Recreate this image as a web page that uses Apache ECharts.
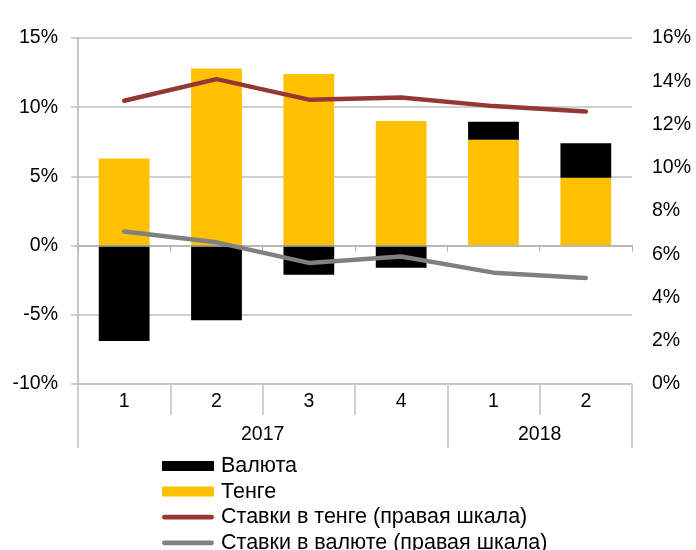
<!DOCTYPE html>
<html>
<head>
<meta charset="utf-8">
<script src="https://cdn.jsdelivr.net/npm/echarts@6/dist/echarts.min.js"></script>
<style>
html,body{margin:0;padding:0;background:#fff;}
#c{width:696px;height:550px;}
</style>
</head>
<body>
<div id="c"></div>
<script>
// ---- data ----
const quarters = ['1', '2', '3', '4', '1', '2'];
const years = ['2017', '2018'];
const yearSpans = [4, 2];
const tenge = [6.3, 12.8, 12.4, 9.0, 7.65, 4.9];
const valuta = [-6.9, -5.4, -2.1, -1.6, 1.3, 2.5];
const rateTenge = [13.1, 14.1, 13.15, 13.25, 12.85, 12.6];
const rateValuta = [7.05, 6.55, 5.6, 5.9, 5.15, 4.9];
const leftAxis = { min: -10, max: 15, step: 5 };
const rightAxis = { min: 0, max: 16, step: 2 };
const seriesNames = ['Валюта', 'Тенге', 'Ставки в тенге (правая шкала)', 'Ставки в валюте (правая шкала)'];

// year boundaries / centers derived from spans
const yearBounds = [0];
yearSpans.forEach(s => yearBounds.push(yearBounds[yearBounds.length - 1] + s));
const yearCenters = yearSpans.map((s, i) => yearBounds[i] + s / 2);

const FONT = 'Liberation Sans, Arial, sans-serif';
const GRID_COLOR = '#c0c0c0';
const AXIS_COLOR = '#b0b0b0';
const LINE_ICON = 'path://M2.5,0 L52.5,0 A2.5,2.5 0 0 1 52.5,5 L2.5,5 A2.5,2.5 0 0 1 2.5,0 Z';

const chart = echarts.init(document.getElementById('c'), null, { renderer: 'canvas' });
chart.setOption({
  animation: false,
  textStyle: { fontFamily: FONT },
  grid: { left: 78, right: 64, top: 38, height: 346, containLabel: false },
  legend: {
    orient: 'vertical',
    left: 162,
    top: 455,
    height: 200,
    padding: 0,
    itemWidth: 52,
    itemHeight: 10,
    itemGap: 3.6,
    data: [
      { name: seriesNames[0], icon: 'rect', itemStyle: { borderWidth: 0 } },
      { name: seriesNames[1], icon: 'rect' },
      { name: seriesNames[2], icon: LINE_ICON },
      { name: seriesNames[3], icon: LINE_ICON }
    ],
    textStyle: { fontSize: 21.5, color: '#000', fontFamily: FONT, lineHeight: 20, padding: [0, 0, 0, 2] },
    selectedMode: false
  },
  xAxis: [
    {
      type: 'category',
      data: quarters,
      axisLine: { onZero: true, onZeroAxisIndex: 0, lineStyle: { color: AXIS_COLOR, width: 1.5 } },
      axisTick: { show: true, length: 6, lineStyle: { color: AXIS_COLOR, width: 1 } },
      axisLabel: { show: false },
      splitLine: { show: false },
      z: 5
    },
    {
      type: 'category',
      data: quarters,
      position: 'bottom',
      offset: 0,
      axisLine: { onZero: false, lineStyle: { color: GRID_COLOR, width: 1.5 } },
      axisTick: { show: true, length: 31, lineStyle: { color: GRID_COLOR, width: 1.5 } },
      axisLabel: { show: true, margin: 8, fontSize: 19.5, color: '#000', fontFamily: FONT },
      splitLine: { show: false }
    },
    {
      type: 'value',
      position: 'bottom',
      offset: 0,
      min: 0,
      max: yearBounds[yearBounds.length - 1],
      axisLine: { show: false, onZero: false },
      axisTick: { show: true, length: 64, customValues: yearBounds, lineStyle: { color: GRID_COLOR, width: 1.5 } },
      axisLabel: {
        show: true, margin: 41, fontSize: 19.5, color: '#000', fontFamily: FONT,
        customValues: yearCenters,
        formatter: function (v) {
          const i = yearCenters.findIndex(c => Math.abs(c - v) < 1e-6);
          return i >= 0 ? years[i] : '';
        }
      },
      splitLine: { show: false }
    }
  ],
  yAxis: [
    {
      type: 'value',
      min: leftAxis.min,
      max: leftAxis.max,
      interval: leftAxis.step,
      position: 'left',
      axisLine: { show: true, lineStyle: { color: AXIS_COLOR, width: 1.5 } },
      axisTick: { show: true, length: 7, lineStyle: { color: GRID_COLOR, width: 1.5 } },
      axisLabel: { formatter: '{value}%', fontSize: 19.5, color: '#000', margin: 20, fontFamily: FONT },
      splitLine: { show: true, lineStyle: { color: GRID_COLOR, width: 1.5 } }
    },
    {
      type: 'value',
      min: rightAxis.min,
      max: rightAxis.max,
      interval: rightAxis.step,
      position: 'right',
      axisLine: { show: false },
      axisTick: { show: false },
      axisLabel: { formatter: '{value}%', fontSize: 19.5, color: '#000', margin: 20, fontFamily: FONT },
      splitLine: { show: false }
    }
  ],
  series: [
    {
      name: seriesNames[1],
      type: 'bar',
      stack: 'a',
      xAxisIndex: 0,
      yAxisIndex: 0,
      data: tenge,
      barCategoryGap: '45%',
      itemStyle: { color: '#FFC000' }
    },
    {
      name: seriesNames[0],
      type: 'bar',
      stack: 'a',
      xAxisIndex: 0,
      yAxisIndex: 0,
      data: valuta,
      barCategoryGap: '45%',
      itemStyle: { color: '#000000' }
    },
    {
      name: seriesNames[2],
      type: 'line',
      xAxisIndex: 0,
      yAxisIndex: 1,
      data: rateTenge,
      symbol: 'none',
      lineStyle: { color: '#953735', width: 4.5, cap: 'round', join: 'round' },
      itemStyle: { color: '#953735' },
      z: 6
    },
    {
      name: seriesNames[3],
      type: 'line',
      xAxisIndex: 0,
      yAxisIndex: 1,
      data: rateValuta,
      symbol: 'none',
      lineStyle: { color: '#808080', width: 4.5, cap: 'round', join: 'round' },
      itemStyle: { color: '#808080' },
      z: 6
    }
  ]
});
</script>
</body>
</html>
